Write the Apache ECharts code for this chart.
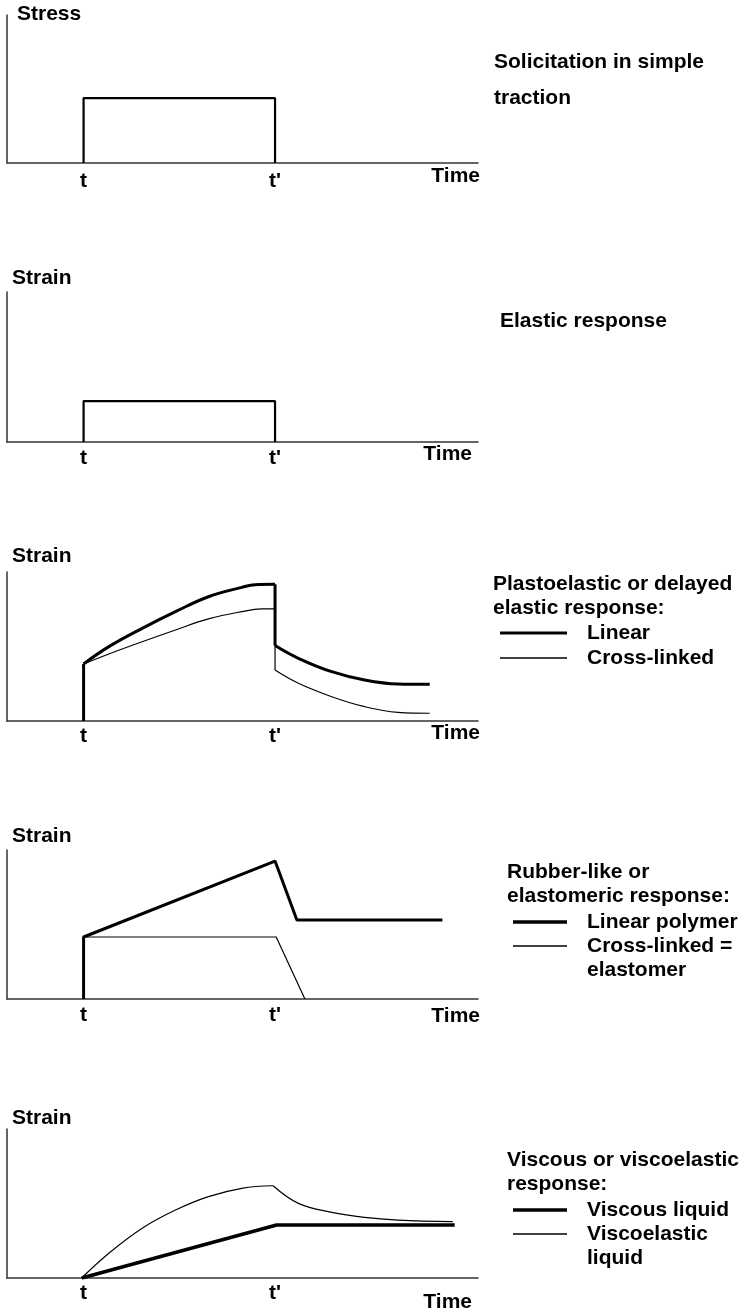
<!DOCTYPE html>
<html>
<head>
<meta charset="utf-8">
<script src="https://cdn.jsdelivr.net/npm/echarts@6/dist/echarts.min.js"></script>
<style>
  html, body { margin: 0; padding: 0; background: #fff; }
  #chart { width: 745px; height: 1314px; }
</style>
</head>
<body>
<div id="chart"></div>
<script>
// time axis: t = 2, t' = 7, strain/stress on a 0..10 scale
const xMax = 12.3;
const tickValues = [2, 7];
const tickLabels = ['t', "t'"];
const yNames = ['Stress', 'Strain', 'Strain', 'Strain', 'Strain'];

// panel 1 + 2: rectangular pulses
const stressPulse = [[2, 0], [2, 4.39], [7, 4.39], [7, 0]];
const elasticPulse = [[2, 0], [2, 2.73], [7, 2.73], [7, 0]];

// panel 3: plastoelastic (segments, curves get smoothed)
const plastoLinear = [
  [[2, 0], [2, 3.83]],
  [[2, 3.83], [2.66, 4.99], [3.53, 6.22], [4.40, 7.34], [5.26, 8.34], [6.13, 8.97], [6.48, 9.15], [7, 9.17]],
  [[7, 9.17], [7, 5.07]],
  [[7, 5.07], [7.61, 4.21], [8.48, 3.31], [9.34, 2.75], [10.21, 2.48], [11.04, 2.46]]
];
const plastoCross = [
  [[2, 3.83], [2.66, 4.50], [3.53, 5.32], [4.40, 6.11], [5.26, 6.85], [6.13, 7.34], [6.65, 7.52], [7, 7.52]],
  [[7, 7.52], [7, 3.42]],
  [[7, 3.42], [7.61, 2.53], [8.48, 1.63], [9.34, 0.96], [10.21, 0.58], [11.04, 0.52]]
];

// panel 4: rubber-like
const rubberLinear = [[[2, 0], [2, 4.16], [7, 9.26], [7.57, 5.30], [11.37, 5.30]]];
const rubberCross = [[[2, 4.16], [7.03, 4.16], [7.78, 0]]];

// panel 5: viscous
const viscousLiquid = [[[1.95, 0], [7.04, 3.56], [11.69, 3.56]]];
const viscoelasticLiquid = [
  [[1.95, 0], [2.66, 1.66], [3.53, 3.34], [4.40, 4.56], [5.26, 5.46], [6.13, 6.02], [6.95, 6.19]],
  [[6.95, 6.19], [7.61, 5.01], [8.48, 4.41], [9.34, 4.07], [10.21, 3.89], [11.64, 3.78]]
];

const FONT = '"Liberation Sans", Arial, Helvetica, sans-serif';
const gridTops = [15, 292, 572, 850, 1129];
const gridHeights = [148, 150, 149, 149, 149];
const yNameGap = [-10, 3, 5, 3, 0];
const yNamePad = [10, 5, 5, 5, 5];
const xLabelMargin = [8, 6, 5, 6, 5];
const timePadTop = [3, 2, 2, 7, 14];
const timeGap = [2, -6, 2, 2, -6];

const boldText = { fontFamily: FONT, fontSize: 21, fontWeight: 'bold', color: '#000' };

function lineSeries(name, grid, width, segments, smooth) {
  return segments.map(seg => ({
    name: name,
    type: 'line',
    xAxisIndex: grid,
    yAxisIndex: grid,
    data: seg,
    symbol: 'none',
    smooth: smooth && seg.length > 2 ? 0.4 : false,
    itemStyle: { color: '#000' },
    lineStyle: { color: '#000', width: width },
    silent: true
  }));
}

// one legend per entry so each sits where the reference puts it;
// a wrapped name gets an empty first line so its first text line sits on the icon
function legendItem(name, left, top, iconWidth, lineWidth, twoLine) {
  return {
    orient: 'vertical',
    left: left,
    top: top,
    padding: 0,
    selectedMode: false,
    icon: 'rect',
    itemWidth: iconWidth,
    itemHeight: lineWidth,
    itemStyle: { borderWidth: 0 },
    formatter: twoLine ? (n => '\n' + n) : (n => n),
    textStyle: Object.assign({}, boldText, { lineHeight: 24, padding: [0, 0, 0, 15] }),
    data: [name]
  };
}

const chart = echarts.init(document.getElementById('chart'));

const option = {
  animation: false,
  backgroundColor: '#fff',
  grid: gridTops.map((top, i) => ({
    left: 7, right: 267, top: top, height: gridHeights[i],
    outerBoundsMode: 'none'
  })),
  xAxis: gridTops.map((_, i) => ({
    gridIndex: i,
    type: 'value',
    min: 0,
    max: xMax,
    axisLine: { show: true, lineStyle: { color: '#333', width: 1.5 } },
    axisTick: { show: false },
    splitLine: { show: false },
    axisLabel: Object.assign({}, boldText, {
      customValues: tickValues,
      margin: xLabelMargin[i],
      formatter: v => tickLabels[tickValues.indexOf(v)] || ''
    }),
    name: 'Time',
    nameLocation: 'end',
    nameGap: timeGap[i],
    nameTextStyle: Object.assign({}, boldText, {
      align: 'right', verticalAlign: 'top', padding: [timePadTop[i], 0, 0, 0]
    })
  })),
  yAxis: gridTops.map((_, i) => ({
    gridIndex: i,
    type: 'value',
    min: 0,
    max: 10,
    axisLine: { show: true, lineStyle: { color: '#333', width: 1.5 } },
    axisTick: { show: false },
    axisLabel: { show: false },
    splitLine: { show: false },
    name: yNames[i],
    nameLocation: 'end',
    nameGap: yNameGap[i],
    nameTextStyle: Object.assign({}, boldText, {
      align: 'left', verticalAlign: 'bottom', padding: [0, 0, 0, yNamePad[i]]
    })
  })),
  legend: [
    legendItem('Linear', 500, 621, 67, 3, false),
    legendItem('Cross-linked', 500, 646, 67, 1.5, false),
    legendItem('Linear polymer', 513, 910, 54, 3.5, false),
    legendItem('Cross-linked =\nelastomer', 513, 910, 54, 1.5, true),
    legendItem('Viscous liquid', 513, 1198, 54, 3.5, false),
    legendItem('Viscoelastic\nliquid', 513, 1198, 54, 1.5, true)
  ],
  graphic: [
    { type: 'text', left: 494, top: 44, style: Object.assign({ text: 'Solicitation in simple\ntraction', lineHeight: 36 }, boldText, { fill: '#000' }) },
    { type: 'text', left: 500, top: 309, style: Object.assign({ text: 'Elastic response', lineHeight: 24 }, boldText, { fill: '#000' }) },
    { type: 'text', left: 493, top: 572, style: Object.assign({ text: 'Plastoelastic or delayed\nelastic response:', lineHeight: 24 }, boldText, { fill: '#000' }) },
    { type: 'text', left: 507, top: 860, style: Object.assign({ text: 'Rubber-like or\nelastomeric response:', lineHeight: 24 }, boldText, { fill: '#000' }) },
    { type: 'text', left: 507, top: 1148, style: Object.assign({ text: 'Viscous or viscoelastic\nresponse:', lineHeight: 24 }, boldText, { fill: '#000' }) }
  ],
  series: [].concat(
    lineSeries('Stress', 0, 2.2, [stressPulse], false),
    lineSeries('Elastic', 1, 2.2, [elasticPulse], false),
    lineSeries('Cross-linked', 2, 1.2, plastoCross, true),
    lineSeries('Linear', 2, 3, plastoLinear, true),
    lineSeries('Cross-linked =\nelastomer', 3, 1.2, rubberCross, false),
    lineSeries('Linear polymer', 3, 3, rubberLinear, false),
    lineSeries('Viscoelastic\nliquid', 4, 1.2, viscoelasticLiquid, true),
    lineSeries('Viscous liquid', 4, 3.5, viscousLiquid, false)
  )
};

chart.setOption(option);
window.addEventListener('resize', () => chart.resize());
</script>
</body>
</html>
